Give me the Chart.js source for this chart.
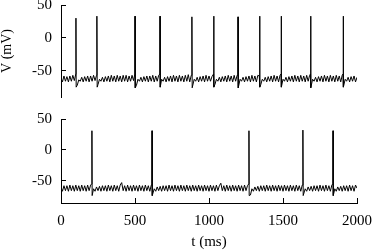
<!DOCTYPE html>
<html>
<head>
<meta charset="utf-8">
<script src="https://cdn.jsdelivr.net/npm/chart.js@4"></script>
<style>
  html, body { margin: 0; padding: 0; background: #fff; }
  #wrap { position: relative; width: 374px; height: 251px; }
  #topChart { position: absolute; left: 0; top: 0; }
  #botChart { position: absolute; left: 0; top: 105px; }
</style>
</head>
<body>
<div id="wrap">
  <canvas id="topChart" width="374" height="105" style="width:374px;height:105px"></canvas>
  <canvas id="botChart" width="374" height="146" style="width:374px;height:146px"></canvas>
</div>
<script>
// sample spacing of the membrane traces (ms)
var STEP = 10;

// upper trace, one value every 10 ms from 0 to 2000
var topV = [
  -61,-67,-58,-66,-59,-67,-58,-66,-57,-65,
  -57,-72,-64,-66,-60,-67,-59,-66,-58,-67,
  -58,-66,-57,-65,-57,-71,-63,-66,-60,-67,
  -59,-66,-58,-67,-57,-66,-58,-67,-57,-66,
  -58,-67,-57,-66,-57,-67,-58,-66,-57,-65,
  -57,-72,-63,-66,-60,-67,-59,-66,-58,-67,
  -58,-66,-57,-67,-58,-66,-57,-71,-63,-66,
  -60,-67,-59,-66,-58,-67,-57,-66,-58,-67,
  -57,-66,-58,-67,-57,-66,-56,-67,-57,-72,
  -63,-66,-60,-67,-59,-66,-58,-67,-57,-66,
  -58,-66,-59,-57,-71,-63,-66,-60,-67,-59,
  -66,-58,-67,-57,-66,-58,-67,-57,-66,-57,
  -72,-63,-66,-60,-67,-59,-66,-58,-67,-57,
  -66,-58,-67,-57,-58,-71,-63,-66,-60,-67,
  -59,-66,-58,-67,-57,-66,-58,-67,-57,-72,
  -63,-66,-60,-67,-59,-66,-58,-67,-57,-66,
  -58,-67,-57,-66,-58,-67,-57,-66,-57,-72,
  -63,-66,-60,-67,-59,-66,-58,-67,-57,-66,
  -58,-67,-57,-66,-58,-67,-57,-66,-58,-67,
  -57,-72,-63,-66,-60,-67,-59,-66,-58,-67,
  -60
];
var topSpikeT = [101, 243, 500, 669, 885, 1032, 1196, 1343, 1488, 1687, 1907];
var topSpikeOnset = [-55, -55, -55, -55, -55, -55, -55, -55, -55, -55, -55];
var topSpikePeak = [30, 33, 33, 33, 32, 33, 32, 33, 33, 33, 33];
var topSpikeTrough = [-75, -75, -76, -75, -76, -75, -76, -75, -75, -76, -75];

// lower trace
var botV = [
  -60,-67,-58,-66,-58,-67,-57,-66,-58,-67,
  -57,-66,-58,-67,-57,-66,-58,-67,-57,-66,
  -57,-73,-63,-67,-60,-66,-59,-67,-58,-66,
  -58,-67,-57,-66,-58,-67,-57,-66,-58,-67,
  -57,-53,-66,-58,-67,-57,-66,-58,-67,-57,
  -66,-58,-67,-57,-66,-58,-67,-57,-66,-58,
  -67,-57,-73,-63,-67,-60,-66,-59,-67,-58,
  -66,-58,-67,-57,-66,-58,-67,-57,-66,-58,
  -67,-57,-66,-58,-67,-57,-66,-58,-67,-57,
  -66,-58,-67,-57,-66,-58,-67,-57,-66,-58,
  -67,-57,-66,-58,-67,-57,-66,-58,-54,-66,
  -58,-67,-57,-66,-58,-67,-57,-66,-58,-67,
  -57,-66,-58,-67,-57,-66,-58,-57,-73,-63,
  -67,-60,-66,-59,-67,-58,-66,-58,-67,-57,
  -66,-58,-67,-57,-66,-58,-67,-57,-66,-58,
  -67,-57,-66,-58,-67,-57,-66,-58,-67,-57,
  -66,-58,-67,-57,-73,-63,-67,-60,-66,-59,
  -67,-58,-66,-58,-67,-57,-66,-58,-67,-57,
  -66,-58,-67,-57,-73,-63,-67,-60,-66,-59,
  -67,-58,-66,-58,-67,-57,-66,-58,-67,-57,
  -62
];
var botSpikeT = [209, 615, 1270, 1635, 1838];
var botSpikeOnset = [-55, -55, -55, -55, -55];
var botSpikePeak = [31, 31, 31, 32, 31];
var botSpikeTrough = [-74, -74, -74, -74, -74];

var xTicks = [0, 500, 1000, 1500, 2000];
var yTicks = [-50, 0, 50];

Chart.defaults.font.family = "'Liberation Serif', 'Times New Roman', serif";
Chart.defaults.font.size = 15;
Chart.defaults.color = '#000';

function buildTrace(vals, spikeT, onsets, peaks, troughs) {
  var pts = [];
  vals.forEach(function (v, i) {
    var t = i * STEP;
    var near = spikeT.some(function (s) { return t > s - 3 && t < s + 6; });
    if (!near) pts.push({ x: t, y: v });
  });
  spikeT.forEach(function (s, k) {
    pts.push({ x: s - 1, y: onsets[k] });
    pts.push({ x: s, y: peaks[k] });
    pts.push({ x: s + 1.5, y: troughs[k] });
  });
  pts.sort(function (a, b) { return a.x - b.x; });
  return pts;
}

function setTicks(list) {
  return function (scale) {
    scale.ticks = list.map(function (v) { return { value: v }; });
  };
}

function plainLabel(v) { return String(v); }

function axisY(min, showTitle) {
  return {
    type: 'linear',
    min: min,
    max: 50,
    afterBuildTicks: setTicks(yTicks),
    afterFit: function (s) { s.width = 61; s.paddingTop = 0; s.paddingBottom = 0; },
    border: { display: true, color: '#000', width: 1 },
    grid: { drawOnChartArea: false, drawTicks: true, tickLength: -5, color: '#000' },
    ticks: { padding: 14, color: '#000', callback: plainLabel },
    title: {
      display: showTitle,
      text: 'V (mV)',
      font: { size: 14 },
      padding: { top: -1, bottom: 0 }
    }
  };
}

var topChart = new Chart(document.getElementById('topChart'), {
  type: 'line',
  data: {
    datasets: [{
      data: buildTrace(topV, topSpikeT, topSpikeOnset, topSpikePeak, topSpikeTrough),
      borderColor: '#000',
      borderWidth: 1,
      pointRadius: 0,
      tension: 0,
      fill: false
    }]
  },
  options: {
    responsive: false,
    animation: false,
    layout: { autoPadding: false, padding: { left: 0, right: 17, top: 5, bottom: 8 } },
    plugins: { legend: { display: false }, tooltip: { enabled: false } },
    scales: {
      x: { type: 'linear', min: 0, max: 2000, display: false },
      y: axisY(-90, true)
    }
  }
});

var botChart = new Chart(document.getElementById('botChart'), {
  type: 'line',
  data: {
    datasets: [{
      data: buildTrace(botV, botSpikeT, botSpikeOnset, botSpikePeak, botSpikeTrough),
      borderColor: '#000',
      borderWidth: 1,
      pointRadius: 0,
      tension: 0,
      fill: false
    }]
  },
  options: {
    responsive: false,
    animation: false,
    layout: { autoPadding: false, padding: { left: 0, right: 17, top: 14, bottom: 0 } },
    plugins: { legend: { display: false }, tooltip: { enabled: false } },
    scales: {
      x: {
        type: 'linear',
        min: 0,
        max: 2000,
        afterBuildTicks: setTicks(xTicks),
        afterFit: function (s) { s.height = 48; s.paddingLeft = 0; s.paddingRight = 0; },
        border: { display: true, color: '#000', width: 1 },
        grid: { drawOnChartArea: false, drawTicks: true, tickLength: -5, color: '#000' },
        ticks: { padding: 14, color: '#000', maxRotation: 0, callback: plainLabel },
        title: { display: true, text: 't (ms)', padding: { top: 0, bottom: 0 } }
      },
      y: axisY(-86, false)
    }
  }
});
</script>
</body>
</html>
